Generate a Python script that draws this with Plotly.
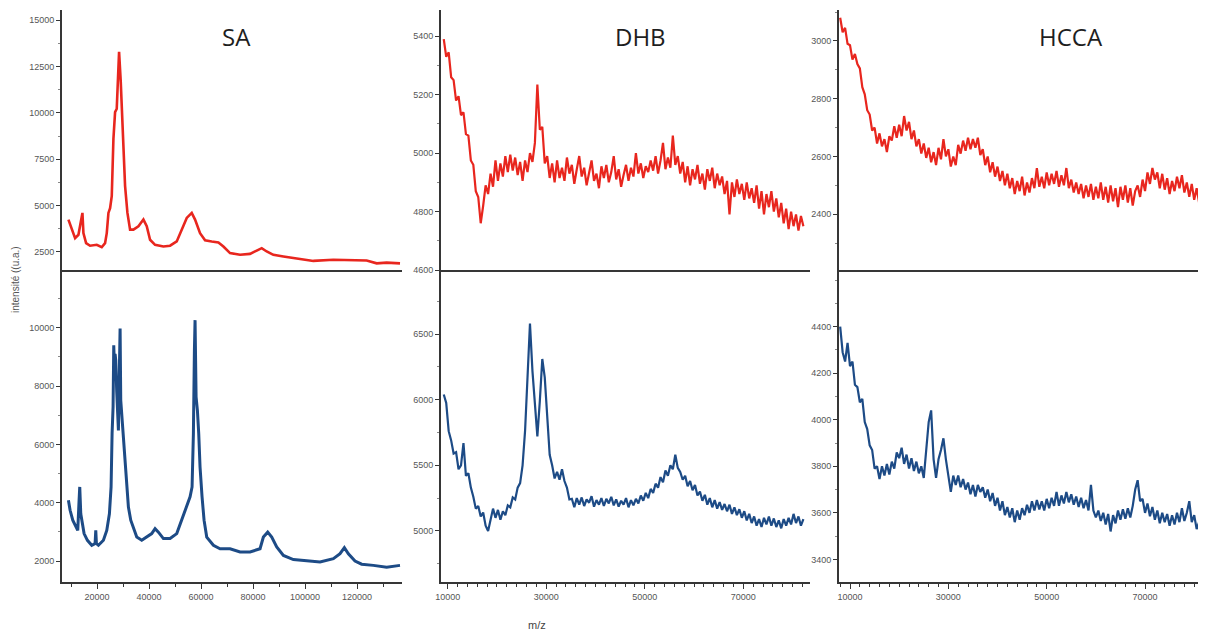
import numpy as np
import plotly.graph_objects as go

# ---- SA (sinapinic acid) : m/z, intensity ----
sa_top_mz = [8974, 10256, 11538, 12820, 13460, 14100, 14360, 14740, 15770, 17300,
             19870, 21790, 23070, 23720, 24360, 25000, 25640, 26280, 26920, 27560,
             28460, 29100, 29870, 30770, 31670, 32690, 33970, 35900, 37820, 39100,
             40380, 42310, 45510, 48080, 50640, 52560, 54490, 56410, 57690, 59610,
             61540, 64100, 66670, 68590, 71150, 75000, 78840, 81410, 83330, 85250,
             87820, 91670, 95510, 100640, 103200, 110900, 117300, 123700, 127560, 131400,
             136540]
sa_top_int = [4240, 3700, 3240, 3420, 3880, 4400, 4600, 3510, 2970, 2830,
              2880, 2750, 2970, 3510, 4600, 4850, 5500, 8590, 10040, 10220,
              13300, 11670, 8950, 6050, 4600, 3700, 3700, 3880, 4240, 3880,
              3150, 2880, 2790, 2830, 3060, 3700, 4330, 4600, 4240, 3510,
              3120, 3060, 3010, 2790, 2430, 2340, 2390, 2570, 2700, 2520,
              2340, 2250, 2160, 2070, 2010, 2070, 2070, 2030, 1880, 1920,
              1880]

sa_bot_mz = [8974, 9615, 10640, 11920, 12560, 13070, 13330, 13720, 14360, 15000,
             16280, 17950, 19230, 19490, 19740, 20510, 22430, 23720, 24740, 25380,
             25770, 26150, 26410, 26670, 26920, 27180, 27560, 27820, 28200, 28590,
             28850, 29100, 29490, 29870, 30380, 31150, 32050, 32950, 33970, 35260,
             37180, 39100, 41020, 42310, 43590, 45510, 48080, 50640, 52560, 54490,
             55770, 56540, 57050, 57440, 57690, 58080, 58590, 59100, 59610, 60380,
             61150, 62180, 64740, 67310, 71150, 75000, 78840, 82690, 83970, 85640,
             87180, 89100, 91670, 95510, 100640, 105770, 110900, 113460, 115130, 116670,
             119230, 121790, 126280, 131400, 136540]
sa_bot_int = [4080, 3740, 3400, 3170, 3050, 4080, 4540, 3620, 3280, 2940,
              2710, 2540, 2600, 3050, 2600, 2540, 2710, 3050, 3620, 4540,
              6370, 7280, 9400, 8660, 9100, 8880, 7800, 7280, 6480, 8660,
              9970, 7510, 7050, 6710, 5800, 4880, 3850, 3400, 3170, 2820,
              2710, 2820, 2940, 3110, 2990, 2770, 2770, 2940, 3400, 3850,
              4200, 4540, 6370, 9230, 10260, 7630, 7170, 6370, 5220, 4200,
              3400, 2820, 2540, 2420, 2420, 2310, 2310, 2420, 2820, 2990,
              2820, 2480, 2190, 2050, 2000, 1970, 2080, 2250, 2460, 2250,
              2000, 1890, 1850, 1790, 1850]

# ---- DHB : sampled every 500 m/z starting at 9200 ----
dhb_mz_start = 9200
dhb_mz_step = 500
dhb_top_int = [
    5390, 5330, 5345, 5260, 5250, 5180, 5195, 5130, 5140, 5065,
    5060, 4975, 4960, 4870, 4850, 4760, 4820, 4890, 4860, 4930,
    4885, 4975, 4905, 4965, 4920, 4990, 4935, 4995, 4940, 4985,
    4925, 4970, 4905, 4975, 4935, 5000, 4970, 5035, 5235, 5080,
    5090, 4965, 4990, 4915, 4965, 4900, 4975, 4915, 4950, 4905,
    4985, 4930, 4960, 4895, 4945, 4990, 4920, 4950, 4890, 4940,
    4975, 4905, 4930, 4880, 4955, 4915, 4960, 4900, 4935, 4990,
    4910, 4945, 4885, 4925, 4960, 4905, 4950, 4920, 5000, 4930,
    4965, 4915, 4955, 4935, 4975, 4940, 4990, 4930, 4975, 5035,
    4945, 4985, 4950, 5060, 4960, 4990, 4930, 4970, 4900, 4955,
    4890, 4945, 4910, 4960, 4895, 4930, 4875, 4945, 4905, 4950,
    4880, 4930, 4890, 4920, 4860, 4905, 4790, 4900, 4850, 4910,
    4860, 4895, 4840, 4900, 4845, 4880, 4830, 4890, 4810, 4870,
    4790, 4860, 4815, 4870, 4800, 4845, 4780, 4830, 4760, 4810,
    4740, 4800, 4750, 4790, 4735, 4785, 4750]
dhb_bot_int = [
    6040, 5975, 5760, 5690, 5590, 5600, 5470, 5500, 5670, 5420,
    5440, 5330, 5260, 5170, 5190, 5110, 5140, 5040, 5000, 5090,
    5170, 5100, 5160, 5085, 5150, 5120, 5195, 5180, 5255, 5240,
    5330, 5365, 5500, 5760, 6180, 6580, 6220, 5930, 5720, 5990,
    6310, 6170, 5880, 5580, 5500, 5400, 5450, 5390, 5470, 5380,
    5330, 5240, 5245, 5180, 5250, 5200, 5255, 5190, 5240, 5215,
    5265, 5185, 5235, 5200, 5250, 5190, 5245, 5210, 5260, 5195,
    5240, 5185, 5230, 5200, 5250, 5180, 5235, 5195, 5245, 5210,
    5270, 5230, 5290, 5250, 5320, 5290, 5360, 5330, 5410, 5370,
    5460, 5420, 5500, 5470, 5580, 5480, 5450, 5390, 5420, 5340,
    5380, 5310, 5350, 5270, 5300, 5230, 5275, 5200, 5250, 5180,
    5235, 5170, 5220, 5160, 5205, 5150, 5200, 5130, 5180, 5120,
    5165, 5100, 5150, 5080, 5130, 5060, 5110, 5040, 5090, 5030,
    5100, 5050, 5110, 5040, 5095, 5030, 5080, 5020, 5090, 5040,
    5100, 5050, 5130, 5060, 5110, 5040, 5090]

# ---- HCCA : sampled every 500 m/z starting at 8000 ----
hcca_mz_start = 8000
hcca_mz_step = 500
hcca_top_int = [
    3080, 3030, 3045, 2990, 2985, 2935, 2955, 2920, 2905, 2840,
    2815, 2760, 2745, 2690, 2700, 2645, 2680, 2635, 2660, 2615,
    2670, 2655, 2705, 2665, 2710, 2670, 2740, 2690, 2720, 2660,
    2690, 2635, 2660, 2610, 2645, 2595, 2630, 2580, 2615, 2570,
    2630, 2590, 2660, 2600, 2625, 2565, 2600, 2570, 2640, 2610,
    2655, 2620, 2665, 2625, 2660, 2630, 2665, 2605, 2625, 2570,
    2600, 2545, 2580, 2530, 2565, 2515, 2550, 2500, 2540, 2490,
    2525, 2470, 2515, 2480, 2530, 2465, 2510, 2475, 2525, 2490,
    2560, 2495, 2530, 2490, 2545, 2500, 2540, 2505, 2550, 2495,
    2535, 2500, 2560, 2490, 2520, 2475, 2510, 2470, 2505, 2455,
    2500, 2460, 2505, 2450, 2495, 2455, 2510, 2450, 2495, 2440,
    2500, 2445, 2490, 2425, 2495, 2450, 2500, 2440, 2490, 2430,
    2480, 2500, 2460, 2520, 2480, 2545, 2505, 2560, 2520, 2545,
    2490, 2540, 2485, 2525, 2470, 2515, 2480, 2530, 2490, 2535,
    2475, 2510, 2460, 2505, 2450, 2490, 2440]
hcca_bot_int = [
    4400, 4290, 4250, 4330, 4230, 4250, 4150, 4140, 4075, 4090,
    3990, 3960, 3890, 3870, 3790, 3800, 3745, 3800, 3760, 3810,
    3765, 3820, 3790, 3860, 3835, 3880, 3810, 3850, 3790, 3835,
    3780, 3820, 3770, 3800, 3750, 3880, 3990, 4040, 3830, 3750,
    3830, 3870, 3920, 3830, 3760, 3690, 3760, 3720, 3760, 3710,
    3745, 3700, 3730, 3680, 3720, 3670, 3720, 3690, 3710, 3665,
    3700, 3650, 3685, 3630, 3665, 3610, 3650, 3590, 3625, 3580,
    3620, 3560, 3610, 3570, 3620, 3590, 3635, 3600, 3650, 3610,
    3655, 3615, 3650, 3610, 3660, 3620, 3665, 3630, 3690, 3630,
    3675, 3640, 3690, 3645, 3680, 3635, 3670, 3625, 3665, 3620,
    3655, 3610, 3720, 3610, 3580, 3610, 3565, 3600, 3550, 3595,
    3520, 3590, 3555, 3610, 3570, 3615, 3575, 3620, 3580, 3630,
    3700, 3740, 3650, 3660, 3600, 3640, 3585, 3625, 3570, 3610,
    3555, 3600, 3560, 3595, 3545, 3590, 3550, 3600, 3560, 3620,
    3565, 3600, 3650, 3560, 3590, 3530, 3560]

matrix_titles = ["SA", "DHB", "HCCA"]

# tick labels of each panel
sa_x_ticks = [20000, 40000, 60000, 80000, 100000, 120000]
narrow_x_ticks = [10000, 30000, 50000, 70000]
sa_top_y_ticks = [2500, 5000, 7500, 10000, 12500, 15000]
sa_bot_y_ticks = [2000, 4000, 6000, 8000, 10000]
dhb_top_y_ticks = [4600, 4800, 5000, 5200, 5400]
dhb_bot_y_ticks = [5000, 5500, 6000, 6500]
hcca_top_y_ticks = [2400, 2600, 2800, 3000]
hcca_bot_y_ticks = [3400, 3600, 3800, 4000, 4200, 4400]

RED = "#e8261e"
BLUE = "#1d4b86"
AXIS = "#363636"

dhb_mz = dhb_mz_start + dhb_mz_step * np.arange(len(dhb_top_int))
hcca_mz = hcca_mz_start + hcca_mz_step * np.arange(len(hcca_top_int))

fig = go.Figure()
# SA
fig.add_trace(go.Scatter(x=sa_top_mz, y=sa_top_int, xaxis="x", yaxis="y",
                         line=dict(color=RED, width=2.6)))
fig.add_trace(go.Scatter(x=sa_bot_mz, y=sa_bot_int, xaxis="x2", yaxis="y2",
                         line=dict(color=BLUE, width=3)))
# DHB
fig.add_trace(go.Scatter(x=dhb_mz, y=dhb_top_int, xaxis="x3", yaxis="y3",
                         line=dict(color=RED, width=2.2)))
fig.add_trace(go.Scatter(x=dhb_mz, y=dhb_bot_int, xaxis="x4", yaxis="y4",
                         line=dict(color=BLUE, width=2.2)))
# HCCA
fig.add_trace(go.Scatter(x=hcca_mz, y=hcca_top_int, xaxis="x5", yaxis="y5",
                         line=dict(color=RED, width=2.2)))
fig.add_trace(go.Scatter(x=hcca_mz, y=hcca_bot_int, xaxis="x6", yaxis="y6",
                         line=dict(color=BLUE, width=2.2)))
fig.update_traces(mode="lines", showlegend=False, hoverinfo="skip")

# the page body has an 8px margin, so the figure is drawn 8px smaller
OFF = 8
W, H = 1206 - OFF, 635 - OFF


def fx(px):
    return (px - OFF) / W


def fy(py):
    return 1 - (py - OFF) / H


top_dom = [fy(270), fy(10)]
bot_dom = [fy(582), fy(270)]
col_dom = [[fx(62), fx(402)], [fx(441), fx(810)], [fx(839), 1.0]]

tickfont = dict(family="Liberation Sans, Arial", size=9, color="#555555")


def xaxis_top(dom, rng, anchor):
    return dict(domain=dom, range=rng, anchor=anchor, showline=True, linecolor=AXIS,
                linewidth=2, showticklabels=False, ticks="", showgrid=False,
                zeroline=False, automargin=False)


def xaxis_bot(dom, rng, tickvals, minor_dtick, anchor):
    return dict(domain=dom, range=rng, anchor=anchor, showline=True, linecolor=AXIS,
                linewidth=2, ticks="outside", ticklen=5, tickcolor=AXIS, tickwidth=1,
                tickvals=tickvals, tickformat="d", tickfont=tickfont,
                minor=dict(ticks="outside", ticklen=3, tick0=0, dtick=minor_dtick,
                           tickcolor=AXIS),
                showgrid=False, zeroline=False, automargin=False)


def yaxis(dom, rng, tickvals, minor_dtick, anchor):
    return dict(domain=dom, range=rng, anchor=anchor, showline=True, linecolor=AXIS,
                linewidth=2, ticks="outside", ticklen=4, tickcolor=AXIS, tickwidth=1,
                tickvals=tickvals, tickformat="d", tickfont=tickfont,
                minor=dict(ticks="outside", ticklen=2, tick0=0, dtick=minor_dtick,
                           tickcolor="#888888"),
                showgrid=False, zeroline=False, automargin=False)


fig.update_layout(
    width=W, height=H,
    margin=dict(l=0, r=0, t=0, b=0, autoexpand=False),
    plot_bgcolor="white", paper_bgcolor="white",
    # SA
    xaxis=xaxis_top(col_dom[0], [6500, 137300], "y"),
    yaxis=yaxis(top_dom, [1520, 15550], sa_top_y_ticks, 1250, "x"),
    xaxis2=xaxis_bot(col_dom[0], [6500, 137300], sa_x_ticks, 10000, "y2"),
    yaxis2=yaxis(bot_dom, [1280, 11980], sa_bot_y_ticks, 1000, "x2"),
    # DHB
    xaxis3=xaxis_top(col_dom[1], [8640, 83540], "y3"),
    yaxis3=yaxis(top_dom, [4600, 5490], dhb_top_y_ticks, 100, "x3"),
    xaxis4=xaxis_bot(col_dom[1], [8640, 83540], narrow_x_ticks, 2000, "y4"),
    yaxis4=yaxis(bot_dom, [4611, 6988], dhb_bot_y_ticks, 250, "x4"),
    # HCCA
    xaxis5=xaxis_top(col_dom[2], [7760, 82400], "y5"),
    yaxis5=yaxis(top_dom, [2207, 3107], hcca_top_y_ticks, 100, "x5"),
    xaxis6=xaxis_bot(col_dom[2], [7760, 82400], narrow_x_ticks, 2000, "y6"),
    yaxis6=yaxis(bot_dom, [3303, 4643], hcca_bot_y_ticks, 100, "x6"),
)

title_x = [236, 640, 1071]
for name, px in zip(matrix_titles, title_x):
    fig.add_annotation(text=name, x=fx(px), y=fy(37), xref="paper", yref="paper",
                       xanchor="center", yanchor="middle", showarrow=False,
                       font=dict(family="Open Sans, Liberation Sans", size=24,
                                 color="#1e1e1e"))

fig.add_annotation(text="intensité ((u.a.)", x=fx(15), y=fy(280), xref="paper",
                   yref="paper", xanchor="center", yanchor="middle", showarrow=False,
                   textangle=-90,
                   font=dict(family="Liberation Sans, Arial", size=10, color="#555555"))
fig.add_annotation(text="m/z", x=fx(537), y=fy(625), xref="paper", yref="paper",
                   xanchor="center", yanchor="middle", showarrow=False,
                   font=dict(family="Liberation Sans, Arial", size=11, color="#444444"))

fig.write_html("out.html")
